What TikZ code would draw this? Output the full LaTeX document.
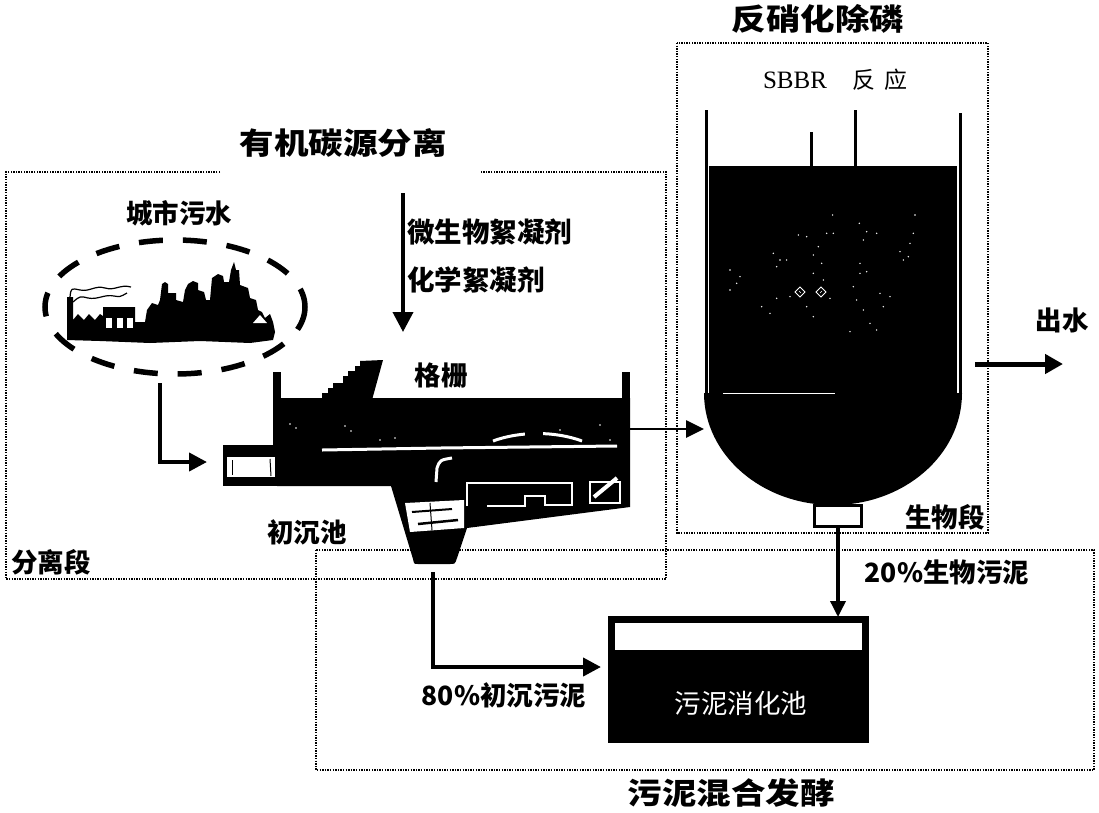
\documentclass[tikz,border=0pt]{standalone}
\usepackage{fontspec}
\setmainfont{Noto Sans CJK SC}
\newfontfamily\titlefont{Noto Sans CJK SC}[FakeStretch=1.15]
\newfontfamily\serifl{Liberation Serif}
\usetikzlibrary{arrows.meta}
\tikzset{
  dotbox/.style={line width=1.4pt, dash pattern=on 1.4pt off 1.2pt},
  lab/.style={font=\fontsize{26.5}{26.5}\selectfont\bfseries, inner sep=0pt},
  ttl/.style={font=\titlefont\fontsize{30}{30}\selectfont\bfseries, inner sep=0pt},
  flow/.style={line width=4pt, -{Triangle[length=18pt,width=18pt]}},
  thinflow/.style={line width=2.7pt, -{Triangle[length=18pt,width=17pt]}},
  speck/.style={white},
}
\begin{document}
\begin{tikzpicture}[x=1pt,y=-1pt]
\useasboundingbox (0,0) rectangle (1099,812);
\fill[white] (0,0) rectangle (1099,812);

% ---------- dotted section frames ----------
\draw[dotbox] (220,172) -- (6,172) -- (6,579) -- (666,579) -- (666,172) -- (480,172);
\draw[dotbox] (677,43) rectangle (988,533);
\draw[dotbox] (316,550) rectangle (1094,770);

% ---------- titles ----------
\node[ttl] (t1) at (343,143) {有机碳源分离};
\node[ttl] (t2) at (818,19) {反硝化除磷};
\node[ttl] (t3) at (731,793) {污泥混合发酵};

% ---------- city ----------
\node[lab] (city) at (179,213) {城市污水};
\draw[line width=5.5pt, dash pattern=on 24pt off 20pt] (175,307) ellipse [x radius=130, y radius=67];
\fill (67,340) -- (67,297) -- (73,297) -- (73,320) -- (78,314) -- (84,320) -- (89,314) -- (95,320) -- (100,314) -- (103,316)
  -- (103,307) -- (135,307) -- (135,322) -- (145,322) -- (147,310) -- (152,303) -- (158,305) -- (160,300) -- (162,284)
  -- (165,282) -- (168,284) -- (168,293) -- (176,293) -- (176,300) -- (183,302) -- (185,290) -- (188,284) -- (193,281)
  -- (198,283) -- (198,290) -- (204,292) -- (206,300) -- (210,300) -- (212,278) -- (218,274) -- (223,276) -- (224,282)
  -- (229,282) -- (231,270) -- (234,262) -- (236,270) -- (239,270) -- (240,285) -- (248,288) -- (250,298) -- (256,300)
  -- (258,310) -- (262,312) -- (265,318) -- (270,314) -- (273,322) -- (275,332) -- (273,340) -- (250,343) -- (200,341)
  -- (150,343) -- (100,341) -- cycle;
\fill[white] (106,318) rectangle (112,328);
\fill[white] (117,318) rectangle (123,328);
\fill[white] (127,318) rectangle (133,328);
\fill[white] (253,323) -- (260,315) -- (267,323) -- cycle;
\draw[line width=1.2pt] (70,297) .. controls (71,288) .. (80,290) .. controls (90,292) and (95,285) .. (105,288)
  .. controls (115,291) and (120,284) .. (131,287);
\draw[line width=1.2pt] (73,302) .. controls (80,296) .. (88,298) .. controls (98,300) and (104,294) .. (114,296)
  .. controls (120,297) .. (127,293);

% ---------- primary settling tank ----------
\fill (322,400) -- (322,393) -- (328,393) -- (328,388) -- (333,388) -- (333,383) -- (343,383) -- (343,376)
  -- (348,376) -- (348,371) -- (355,371) -- (355,366) -- (360,366) -- (360,361) -- (383,360) -- (372,400) -- cycle;
\fill (273,372) rectangle (281,447);
\fill (622,372) rectangle (630,400);
\fill (277,398) -- (630,398) -- (630,507) -- (467,528) -- (457,558) .. controls (455,564) .. (450,564)
  -- (418,564) .. controls (414,564) .. (413,559) -- (391,486) -- (277,486) -- cycle;
\fill (223,445) rectangle (281,486);
\fill[white] (227,457) rectangle (275,477);
\draw[line width=1pt] (232,460) -- (232,475);
\draw[line width=1pt] (270,459) -- (271,476);
% white details inside the tank
\draw[white,line width=3pt] (322,450) -- (440,448) -- (617,446);
\draw[white,line width=3pt] (493,441) .. controls (520,431) and (555,431) .. (582,441);
\fill (525,422) rectangle (543,436);
\draw[white,line width=3pt] (436,482) -- (437,468) .. controls (440,460) .. (452,458);
\draw[white,line width=2pt] (467,506) -- (467,483) -- (572,483) -- (572,505) -- (545,505) -- (545,496) -- (525,496) -- (525,506) -- (487,506);
\draw[white,line width=1.5pt] (590,482) rectangle (620,503);
\draw[white,line width=4pt] (594,497) -- (617,478);
\fill[white] (405,503) -- (464,500) -- (464,528) -- (410,532) -- cycle;
\draw[line width=2pt] (412,512) -- (452,509);
\draw[line width=2.5pt] (418,524) -- (458,520);
\draw[line width=1pt] (430,503) -- (432,530);
\foreach \a/\b in {290/424,296/428,345/426,351/431,380/440,395/438,560/430,600/425,610/440}
  \fill[speck] (\a,\b) circle (0.9);

\node[lab] (grid) at (441,375) {格栅};
\node[lab] (pst) at (307,532) {初沉池};
\node[lab] (sep) at (51,562) {分离段};

% flocculant dosing
\node[lab, anchor=west, font=\fontsize{27.5}{27.5}\selectfont\bfseries] (floc1) at (407,232) {微生物絮凝剂};
\node[lab, anchor=west, font=\fontsize{27.5}{27.5}\selectfont\bfseries] (floc2) at (407,280) {化学絮凝剂};
\coordinate (chemtop) at (403,193);
\coordinate (chemend) at (403,332);
\draw[line width=3.8pt, -{Triangle[length=20pt,width=20pt]}] (chemtop) -- (chemend);

% city -> tank
\coordinate (cityout) at (160,383);
\coordinate (tankin) at (207,462);
\draw[flow] (cityout) |- (tankin);

% ---------- SBBR reactor ----------
\node[font=\serifl\fontsize{25}{25}\selectfont, inner sep=0pt] (sbbr) at (795,80) {SBBR};
\node[font=\fontsize{23}{23}\selectfont, inner sep=0pt] (fy) at (880,80) {反\hspace{10pt}应};
\draw[line width=3pt] (706,110) -- (706,395);
\draw[line width=3pt] (960,113) -- (960,395);
\draw[line width=3pt] (811,132) -- (811,168);
\draw[line width=3pt] (855,110) -- (855,168);
\fill (709,166) rectangle (957,395);
\fill (704,393) -- (962,393) .. controls (962,455) and (904,505) .. (833,505) .. controls (762,505) and (704,455) .. (704,393) -- cycle;
\draw[white,line width=0.8pt] (723,393) -- (835,393);
\foreach \a/\b in {488/465,490/520,470/520,410/530,385/525,568/490,590/515,620/520,735/465,730/520,720/550,
  690/575,715/590,310/580,320/620,350/600,430/585,430/640,455/610,460/660,570/610,570/640,590/635,180/630,
  210/650,180/690,320/715,300/760,275/740,410/740,430/770,550/680,560/720,580/750,600/790,630/700,660/710,
  640/740,620/810,540/815,480/715,360/710,200/670,330/600,445/560,580/540,700/600}
  \fill[speck] ({670+\a/3},{60+\b/3}) circle (0.8);
\draw[white,line width=0.8pt] (795,292) -- (800,287) -- (805,292) -- (800,297) -- cycle;
\draw[white,line width=0.8pt] (816,292) -- (821,287) -- (826,292) -- (821,297) -- cycle;
\draw[white,line width=0.6pt] (799,291) -- (801,293);
\draw[white,line width=0.6pt] (820,293) -- (822,291);
\node[draw, line width=2.5pt, fill=white, minimum width=47pt, minimum height=21pt, inner sep=0pt] (outlet) at (838,516) {};
\node[lab] (bio) at (945,517) {生物段};

% tank -> reactor
\coordinate (tankout) at (630,429);
\coordinate (reacin) at (704,429);
\draw[thinflow] (tankout) -- (reacin);

% effluent
\coordinate (effs) at (975,364);
\coordinate (effe) at (1063,364);
\draw[line width=5pt, -{Triangle[length=18pt,width=19pt]}] (effs) -- (effe);
\node[lab] (eff) at (1062,320) {出水};

% ---------- sludge digester ----------
\fill (608,616) rectangle (869,743);
\fill[white] (615,623) rectangle (862,650);
\node[font=\fontsize{26.5}{26.5}\selectfont, text=white, inner sep=0pt] (dig) at (741,703) {污泥消化池};
\coordinate (digtop) at (838,617);
\draw[line width=3.5pt, -{Triangle[length=16pt,width=15pt]}] (outlet.south) -- (digtop);
\node[lab] (bs) at (947,572) {20\%生物污泥};

\coordinate (hopper) at (433,572);
\coordinate (digleft) at (601,667);
\draw[flow] (hopper) |- (digleft);
\node[lab] (ps) at (504,695) {80\%初沉污泥};
\end{tikzpicture}
\end{document}
